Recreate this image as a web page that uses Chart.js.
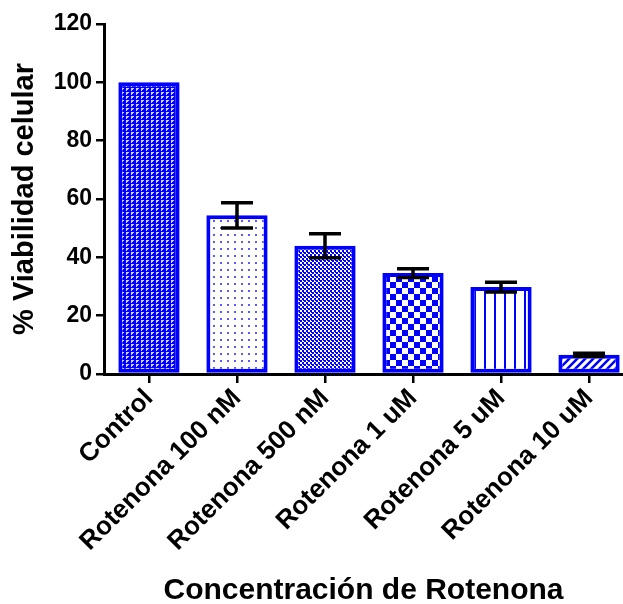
<!DOCTYPE html>
<html>
<head>
<meta charset="utf-8">
<script src="https://cdn.jsdelivr.net/npm/chart.js"></script>
<style>
  body { margin: 0; background: #fff; }
  #chart { display: block; }
</style>
</head>
<body>
<canvas id="chart" width="623" height="604"></canvas>
<script>
// data
var categories = ['Control', 'Rotenona 100 nM', 'Rotenona 500 nM', 'Rotenona 1 uM', 'Rotenona 5 uM', 'Rotenona 10 uM'];
var viability = [100, 54.4, 44.0, 34.6, 29.8, 6.6];
var errors = [0, 4.3, 4.1, 1.5, 1.7, 0.5];
var yTicks = [0, 20, 40, 60, 80, 100, 120];

var BLUE = '#0000ff';

// little tiles for the bar fills
function tile(w, h, draw) {
	var c = document.createElement('canvas');
	c.width = w; c.height = h;
	var g = c.getContext('2d');
	draw(g);
	return document.getElementById('chart').getContext('2d').createPattern(c, 'repeat');
}

var fills = [
	tile(5, 4, function(g){
		g.fillStyle = BLUE; g.fillRect(0, 0, 5, 4);
		g.fillStyle = '#d0d0ff';
		g.fillRect(1, 0, 3, 1); g.fillRect(1, 1, 1, 2); g.fillRect(2, 1, 1, 1);
	}),
	tile(7, 7, function(g){
		g.fillStyle = '#fff'; g.fillRect(0, 0, 7, 7);
		g.fillStyle = '#5a5aff'; g.fillRect(3, 3, 2, 2);
	}),
	tile(4, 4, function(g){
		g.fillStyle = '#fff'; g.fillRect(0, 0, 4, 4);
		g.fillStyle = BLUE; g.fillRect(0, 0, 2, 2); g.fillRect(2, 2, 2, 2);
		g.fillRect(3, 0, 1, 1);
	}),
	tile(12, 12, function(g){
		g.fillStyle = '#fff'; g.fillRect(0, 0, 12, 12);
		g.fillStyle = BLUE; g.fillRect(0, 0, 6, 6); g.fillRect(6, 6, 6, 6);
	}),
	tile(10, 2, function(g){
		g.fillStyle = '#fff'; g.fillRect(0, 0, 10, 2);
		g.fillStyle = BLUE; g.fillRect(4, 0, 2, 2);
	}),
	tile(8, 8, function(g){
		g.fillStyle = '#fff'; g.fillRect(0, 0, 8, 8);
		g.strokeStyle = BLUE; g.lineWidth = 2.5;
		g.beginPath();
		g.moveTo(-2, 10); g.lineTo(10, -2);
		g.moveTo(-6, 6); g.lineTo(6, -6);
		g.moveTo(2, 14); g.lineTo(14, 2);
		g.stroke();
	})
];

var points = [];
for (var i in viability) {
	points.push({x: Number(i), y: viability[i]});
}

var errorBars = {
	id: 'errorBars',
	afterDatasetsDraw: function(chart) {
		var ctx = chart.ctx;
		var xs = chart.scales.x, ys = chart.scales.y;
		ctx.save();
		ctx.strokeStyle = '#000';
		ctx.lineWidth = 3.5;
		for (var i = 0; i < viability.length; i++) {
			if (!errors[i]) continue;
			var x = xs.getPixelForValue(i);
			var top = ys.getPixelForValue(viability[i] + errors[i]);
			var bot = ys.getPixelForValue(viability[i] - errors[i]);
			ctx.beginPath();
			ctx.moveTo(x, top); ctx.lineTo(x, bot);
			ctx.moveTo(x - 16, top); ctx.lineTo(x + 16, top);
			ctx.moveTo(x - 16, bot); ctx.lineTo(x + 16, bot);
			ctx.stroke();
		}
		ctx.restore();
	}
};

var font = 'Liberation Sans, Arial, sans-serif';

new Chart(document.getElementById('chart'), {
	type: 'bar',
	data: {
		datasets: [{
			data: points,
			backgroundColor: fills,
			borderColor: BLUE,
			borderWidth: 4,
			borderSkipped: false,
			barPercentage: 0.87,
			categoryPercentage: 0.8
		}]
	},
	options: {
		responsive: false,
		animation: false,
		layout: { padding: { top: 24, right: 0, left: 0, bottom: 0 } },
		plugins: { legend: { display: false }, tooltip: { enabled: false } },
		scales: {
			x: {
				type: 'linear',
				offset: false,
				min: -0.511,
				max: 5.386,
				afterBuildTicks: function(scale) {
					scale.ticks = categories.map(function(c, i){ return {value: i}; });
				},
				afterFit: function(scale) { scale.height = 230; },
				grid: { offset: false, drawOnChartArea: false, drawTicks: true, tickLength: 9, color: '#000', lineWidth: 2.5 },
				border: { color: '#000', width: 3 },
				ticks: {
					autoSkip: false,
					minRotation: 45,
					maxRotation: 45,
					padding: 0,
					color: '#000',
					font: { family: font, size: 26, weight: 'bold' },
					callback: function(v) { return categories[v]; }
				},
				title: {
					display: true,
					text: 'Concentración de Rotenona',
					color: '#000',
					padding: 0,
					font: { family: font, size: 30, weight: 'bold', lineHeight: 0.9 }
				}
			},
			y: {
				min: 0,
				max: 120,
				afterBuildTicks: function(scale) {
					scale.ticks = yTicks.map(function(v){ return {value: v}; });
				},
				afterFit: function(scale) { scale.width = 104; },
				grid: { drawOnChartArea: false, drawTicks: true, tickLength: 8, color: '#000', lineWidth: 2.5 },
				border: { color: '#000', width: 3 },
				ticks: {
					padding: 4,
					color: '#000',
					font: { family: font, size: 23, weight: 'bold' }
				},
				title: {
					display: true,
					text: '% Viabilidad celular',
					color: '#000',
					padding: { top: 10, bottom: 0 },
					font: { family: font, size: 29, weight: 'bold', lineHeight: 1 }
				}
			}
		}
	},
	plugins: [errorBars]
});
</script>
</body>
</html>
